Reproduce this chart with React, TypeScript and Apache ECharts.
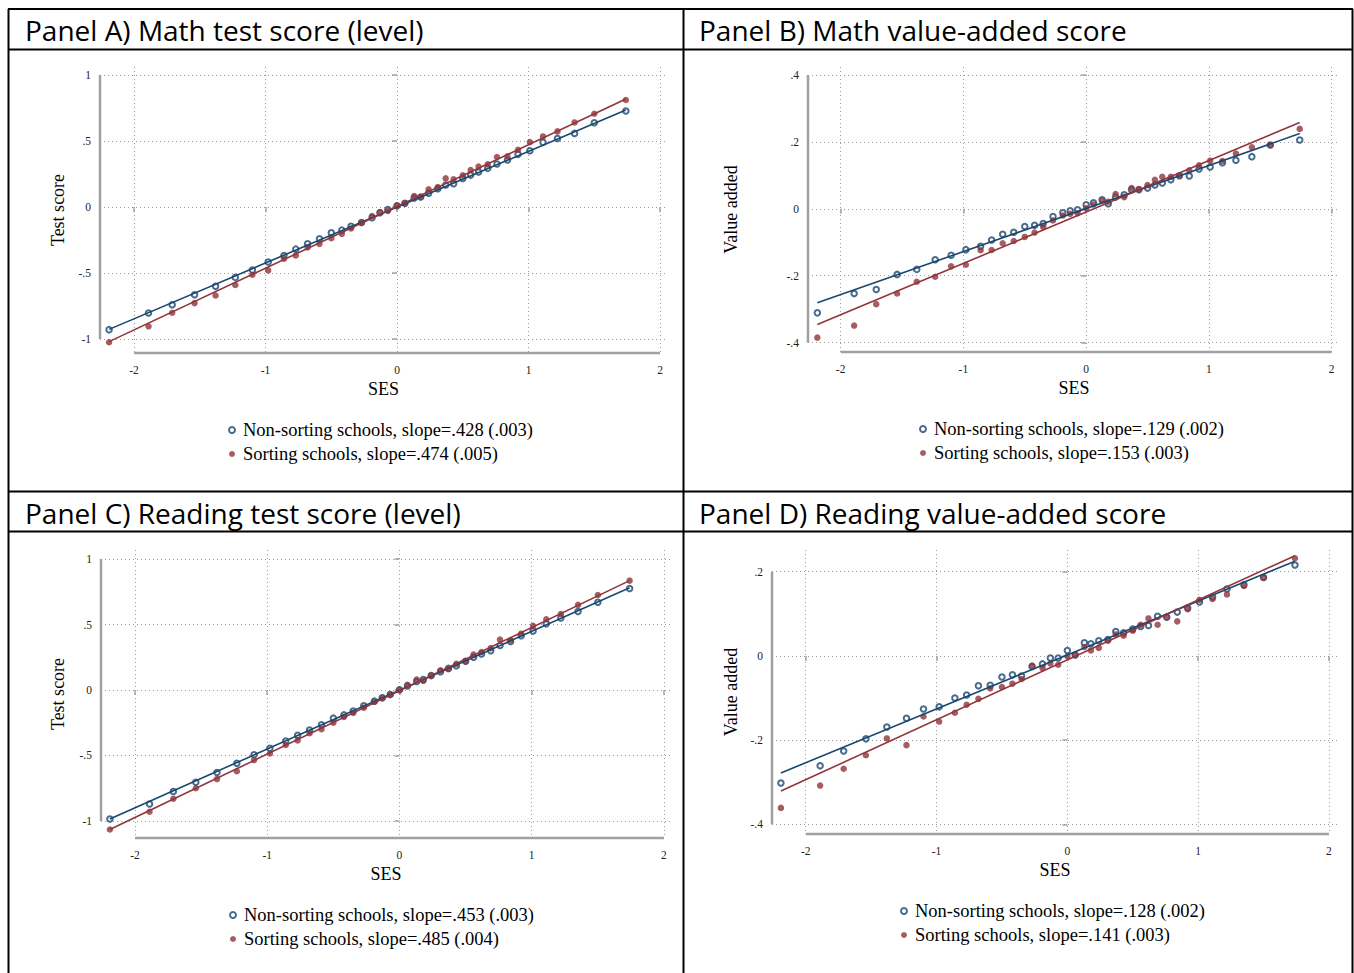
import React, { useEffect, useRef } from 'react';
import * as echarts from 'echarts';

// SES bins (x positions of the binned means), shared by all panels
const sesBins = [-2.19, -1.89, -1.71, -1.54, -1.38, -1.23, -1.10, -0.98, -0.86, -0.77, -0.68, -0.59, -0.50, -0.42, -0.35, -0.27, -0.19, -0.13, -0.07, 0.00, 0.06, 0.13, 0.18, 0.24, 0.31, 0.37, 0.43, 0.50, 0.56, 0.62, 0.69, 0.76, 0.84, 0.92, 1.01, 1.11, 1.22, 1.35, 1.50, 1.74];

const mathLevelNonSorting = [-0.929, -0.803, -0.740, -0.665, -0.601, -0.533, -0.478, -0.417, -0.367, -0.319, -0.279, -0.241, -0.195, -0.175, -0.145, -0.117, -0.081, -0.043, -0.019, 0.010, 0.028, 0.068, 0.076, 0.104, 0.139, 0.167, 0.177, 0.217, 0.242, 0.265, 0.293, 0.326, 0.356, 0.399, 0.427, 0.490, 0.520, 0.558, 0.639, 0.727];
const mathLevelSorting = [-1.025, -0.904, -0.801, -0.728, -0.670, -0.591, -0.513, -0.480, -0.392, -0.367, -0.306, -0.279, -0.236, -0.203, -0.163, -0.119, -0.068, -0.039, -0.029, 0.011, 0.028, 0.083, 0.076, 0.134, 0.152, 0.217, 0.210, 0.240, 0.280, 0.306, 0.323, 0.379, 0.384, 0.434, 0.492, 0.535, 0.573, 0.641, 0.707, 0.811];

const mathVANonSorting = [-0.311, -0.253, -0.241, -0.196, -0.181, -0.152, -0.139, -0.122, -0.112, -0.093, -0.076, -0.070, -0.053, -0.049, -0.044, -0.023, -0.012, -0.006, -0.003, 0.012, 0.018, 0.027, 0.015, 0.035, 0.042, 0.057, 0.057, 0.062, 0.071, 0.077, 0.087, 0.099, 0.098, 0.119, 0.125, 0.138, 0.145, 0.156, 0.191, 0.206];
const mathVASorting = [-0.385, -0.349, -0.285, -0.253, -0.218, -0.203, -0.172, -0.167, -0.124, -0.123, -0.103, -0.096, -0.084, -0.071, -0.054, -0.035, -0.020, -0.015, -0.013, 0.002, 0.013, 0.025, 0.021, 0.044, 0.035, 0.062, 0.059, 0.071, 0.087, 0.096, 0.096, 0.099, 0.115, 0.130, 0.144, 0.143, 0.165, 0.184, 0.191, 0.239];

const readLevelNonSorting = [-0.985, -0.870, -0.775, -0.705, -0.630, -0.560, -0.495, -0.445, -0.390, -0.345, -0.305, -0.265, -0.215, -0.190, -0.160, -0.120, -0.085, -0.060, -0.035, 0.002, 0.030, 0.065, 0.080, 0.110, 0.140, 0.165, 0.185, 0.220, 0.250, 0.275, 0.300, 0.340, 0.370, 0.415, 0.450, 0.505, 0.550, 0.600, 0.670, 0.775];
const readLevelSorting = [-1.065, -0.930, -0.830, -0.750, -0.680, -0.620, -0.535, -0.485, -0.420, -0.385, -0.330, -0.300, -0.250, -0.205, -0.175, -0.135, -0.090, -0.060, -0.035, 0.000, 0.040, 0.080, 0.070, 0.110, 0.150, 0.160, 0.200, 0.220, 0.270, 0.290, 0.320, 0.385, 0.380, 0.430, 0.490, 0.540, 0.580, 0.650, 0.725, 0.835];

const readVANonSorting = [-0.302, -0.261, -0.226, -0.197, -0.169, -0.148, -0.126, -0.121, -0.100, -0.093, -0.071, -0.070, -0.050, -0.045, -0.048, -0.025, -0.019, -0.005, -0.005, 0.013, 0.002, 0.031, 0.029, 0.036, 0.039, 0.058, 0.055, 0.064, 0.070, 0.072, 0.094, 0.092, 0.104, 0.114, 0.128, 0.140, 0.159, 0.169, 0.186, 0.216];
const readVASorting = [-0.361, -0.308, -0.268, -0.236, -0.196, -0.212, -0.144, -0.156, -0.135, -0.116, -0.102, -0.077, -0.074, -0.066, -0.055, -0.023, -0.029, -0.018, -0.021, -0.001, 0.002, 0.021, 0.013, 0.019, 0.036, 0.051, 0.048, 0.060, 0.074, 0.089, 0.074, 0.093, 0.082, 0.111, 0.133, 0.135, 0.146, 0.166, 0.186, 0.232];

// fitted-line values at the first and last SES bin
const mathLevelFitNon = [-0.927, 0.735];
const mathLevelFitSort = [-1.02, 0.818];
const mathVAFitNon = [-0.281, 0.225];
const mathVAFitSort = [-0.346, 0.258];
const readLevelFitNon = [-0.985, 0.78];
const readLevelFitSort = [-1.065, 0.835];
const readVAFitNon = [-0.278, 0.225];
const readVAFitSort = [-0.321, 0.238];

const panelTitles = [
  'Panel A) Math test score (level)',
  'Panel B) Math value-added score',
  'Panel C) Reading test score (level)',
  'Panel D) Reading value-added score',
];
const legendNonSorting = [
  'Non-sorting schools, slope=.428 (.003)',
  'Non-sorting schools, slope=.129 (.002)',
  'Non-sorting schools, slope=.453 (.003)',
  'Non-sorting schools, slope=.128 (.002)',
];
const legendSorting = [
  'Sorting schools, slope=.474 (.005)',
  'Sorting schools, slope=.153 (.003)',
  'Sorting schools, slope=.485 (.004)',
  'Sorting schools, slope=.141 (.003)',
];
const sesTicks = [-2, -1, 0, 1, 2];
const levelTicks = [-1, -0.5, 0, 0.5, 1];
const mathVATicks = [-0.4, -0.2, 0, 0.2, 0.4];
const readVATicks = [-0.4, -0.2, 0, 0.2];

const BLUE = '#1a476f';
const RED = '#90353b';
const AXIS_GRAY = '#a0a0a0';
const SERIF = '"Liberation Serif", "Times New Roman", serif';
const SANS = '"Open Sans", "Noto Sans", sans-serif';

const fmt = (v: number) => {
  const r = Math.round(v * 100) / 100;
  if (r === 0) return '0';
  return String(r).replace(/^(-?)0\./, '$1.');
};

const panels = [
  {
    title: panelTitles[0], titleX: 25, titleY: 30,
    grid: { left: 100, top: 67, width: 567, height: 286 },
    xRange: [-2.259, 2.053], yRange: [-1.106, 1.061], yTicks: levelTicks, yName: 'Test score', yNameGap: 33,
    non: mathLevelNonSorting, sort: mathLevelSorting, fitNon: mathLevelFitNon, fitSort: mathLevelFitSort,
    legendLeft: 228, legendTop: 420,
  },
  {
    title: panelTitles[1], titleX: 699, titleY: 30,
    grid: { left: 808, top: 67, width: 532, height: 285 },
    xRange: [-2.266, 2.068], yRange: [-0.428, 0.424], yTicks: mathVATicks, yName: 'Value added', yNameGap: 68,
    non: mathVANonSorting, sort: mathVASorting, fitNon: mathVAFitNon, fitSort: mathVAFitSort,
    legendLeft: 919, legendTop: 419,
  },
  {
    title: panelTitles[2], titleX: 25, titleY: 513,
    grid: { left: 101, top: 550, width: 570, height: 288 },
    xRange: [-2.257, 2.053], yRange: [-1.13, 1.069], yTicks: levelTicks, yName: 'Test score', yNameGap: 34,
    non: readLevelNonSorting, sort: readLevelSorting, fitNon: readLevelFitNon, fitSort: readLevelFitSort,
    legendLeft: 229, legendTop: 905,
  },
  {
    title: panelTitles[3], titleX: 699, titleY: 513,
    grid: { left: 772, top: 550, width: 566, height: 284 },
    xRange: [-2.258, 2.069], yRange: [-0.423, 0.2515], yTicks: readVATicks, yName: 'Value added', yNameGap: 32,
    non: readVANonSorting, sort: readVASorting, fitNon: readVAFitNon, fitSort: readVAFitSort,
    legendLeft: 900, legendTop: 901,
  },
];

function buildOption() {
  const grid: any[] = [];
  const xAxis: any[] = [];
  const yAxis: any[] = [];
  const series: any[] = [];
  const legend: any[] = [];
  const graphic: any[] = [];
  const last = sesBins.length - 1;

  panels.forEach((p, i) => {
    grid.push({ ...p.grid });
    const tickStyle = { show: true, length: 5, lineStyle: { color: AXIS_GRAY, width: 1.5 } };
    const splitLine = { show: true, lineStyle: { type: [1, 3], color: '#9a9a9a', width: 1 } };
    xAxis.push({
      type: 'value', gridIndex: i, min: p.xRange[0], max: p.xRange[1],
      axisLine: { show: false },
      axisTick: { ...tickStyle, customValues: sesTicks },
      axisLabel: { customValues: sesTicks, formatter: fmt, fontFamily: SERIF, fontSize: 11.5, color: '#222', margin: 11 },
      splitLine,
      name: 'SES', nameLocation: 'middle', nameGap: 27,
      nameTextStyle: { fontFamily: SERIF, fontSize: 18, color: '#000' },
    });
    yAxis.push({
      type: 'value', gridIndex: i, min: p.yRange[0], max: p.yRange[1],
      axisLine: { show: false },
      axisTick: { ...tickStyle, customValues: p.yTicks },
      axisLabel: { customValues: p.yTicks, formatter: fmt, fontFamily: SERIF, fontSize: 11.5, color: '#222', margin: 9 },
      splitLine,
      name: p.yName, nameLocation: 'middle', nameGap: p.yNameGap, nameRotate: 90,
      nameTextStyle: { fontFamily: SERIF, fontSize: 18, color: '#000' },
    });
    // axis lines spanning only the tick range (Stata style)
    const yt = p.yTicks;
    series.push({
      type: 'line', xAxisIndex: i, yAxisIndex: i, silent: true, clip: false, symbol: 'none', z: 1,
      data: [[p.xRange[0], yt[0]], [p.xRange[0], yt[yt.length - 1]]],
      lineStyle: { color: AXIS_GRAY, width: 2.5 },
    });
    series.push({
      type: 'line', xAxisIndex: i, yAxisIndex: i, silent: true, clip: false, symbol: 'none', z: 1,
      data: [[sesTicks[0], p.yRange[0]], [sesTicks[sesTicks.length - 1], p.yRange[0]]],
      lineStyle: { color: AXIS_GRAY, width: 2.5 },
    });
    series.push({
      type: 'scatter', name: legendNonSorting[i], xAxisIndex: i, yAxisIndex: i, clip: false,
      data: sesBins.map((x, j) => [x, p.non[j]]),
      symbol: 'emptyCircle', symbolSize: 5.5,
      itemStyle: { color: BLUE, borderColor: BLUE, borderWidth: 1.3 }, z: 3,
    });
    series.push({
      type: 'scatter', name: legendSorting[i], xAxisIndex: i, yAxisIndex: i, clip: false,
      data: sesBins.map((x, j) => [x, p.sort[j]]),
      symbol: 'circle', symbolSize: 6.5,
      itemStyle: { color: RED }, z: 3,
    });
    series.push({
      type: 'line', name: 'fitNon' + i, xAxisIndex: i, yAxisIndex: i, silent: true, clip: false, symbol: 'none', z: 4,
      data: [[sesBins[0], p.fitNon[0]], [sesBins[last], p.fitNon[1]]],
      lineStyle: { color: BLUE, width: 1.6 },
    });
    series.push({
      type: 'line', name: 'fitSort' + i, xAxisIndex: i, yAxisIndex: i, silent: true, clip: false, symbol: 'none', z: 4,
      data: [[sesBins[0], p.fitSort[0]], [sesBins[last], p.fitSort[1]]],
      lineStyle: { color: RED, width: 1.6 },
    });
    legend.push({
      orient: 'vertical', left: p.legendLeft, top: p.legendTop, itemWidth: 6, itemHeight: 6, itemGap: 4,
      padding: 0,
      selectedMode: false,
      data: [
        { name: legendNonSorting[i], icon: 'emptyCircle', itemStyle: { color: BLUE, borderColor: BLUE, borderWidth: 1.1 } },
        { name: legendSorting[i], icon: 'circle', itemStyle: { color: RED } },
      ],
      textStyle: { fontFamily: SERIF, fontSize: 18.5, color: '#000', lineHeight: 20, padding: [0, 0, 0, 3] },
    });
    graphic.push({
      type: 'text', x: p.titleX, y: p.titleY, silent: true,
      style: { text: p.title, fontFamily: SANS, fontSize: 28, fill: '#000', verticalAlign: 'middle', textVerticalAlign: 'middle' },
    });
  });

  // frame lines
  const frame = [
    [8, 9, 1353, 9],
    [8.5, 9, 8.5, 973],
    [1352.5, 9, 1352.5, 973],
    [683.5, 9, 683.5, 973],
    [8, 49.5, 1353, 49.5],
    [8, 491.5, 1353, 491.5],
    [8, 531.5, 1353, 531.5],
  ];
  frame.forEach(([x1, y1, x2, y2]) => {
    graphic.push({
      type: 'line', silent: true,
      shape: { x1, y1, x2, y2 },
      style: { stroke: '#000', lineWidth: 2 },
    });
  });

  return { animation: false, backgroundColor: '#fff', grid, xAxis, yAxis, series, legend, graphic };
}

export default function App() {
  const ref = useRef<HTMLDivElement>(null);
  useEffect(() => {
    if (!ref.current) return;
    const chart = echarts.init(ref.current, undefined, { renderer: 'svg' });
    chart.setOption(buildOption() as any);
    return () => chart.dispose();
  }, []);
  return (
    <div
      ref={ref}
      style={{ position: 'fixed', left: 0, top: 0, width: '1354px', height: '973px', background: '#fff' }}
    />
  );
}
